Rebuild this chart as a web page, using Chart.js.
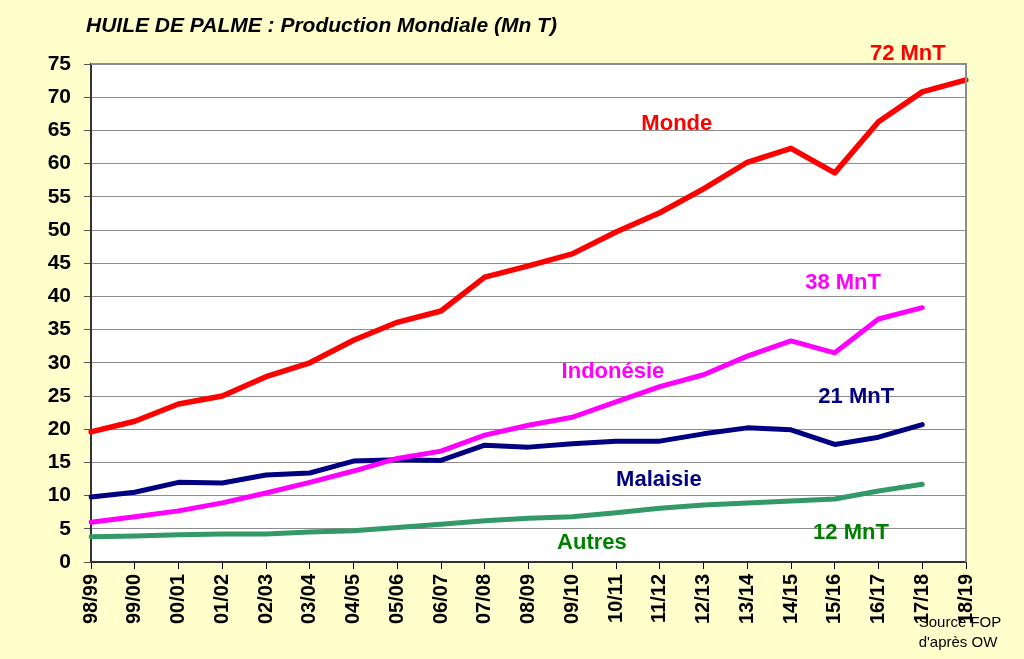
<!DOCTYPE html>
<html>
<head>
<meta charset="utf-8">
<title>Huile de palme</title>
<script src="https://cdn.jsdelivr.net/npm/chart.js@4.4.1/dist/chart.umd.min.js"></script>
<style>
  html, body { margin: 0; padding: 0; background: #FFFFCC; }
  #wrap { width: 1024px; height: 659px; position: relative; }
</style>
</head>
<body>
<div id="wrap"><canvas id="chart" width="1024" height="659"></canvas></div>
<script>
// campagnes
const seasons = ['98/99', '99/00', '00/01', '01/02', '02/03', '03/04', '04/05', '05/06', '06/07', '07/08',
  '08/09', '09/10', '10/11', '11/12', '12/13', '13/14', '14/15', '15/16', '16/17', '17/18', '18/19'];

// production, Mn T
const monde     = [19.6, 21.2, 23.8, 25.0, 27.9, 30.0, 33.4, 36.1, 37.8, 42.9, 44.6, 46.4, 49.7, 52.6, 56.2, 60.2, 62.3, 58.6, 66.3, 70.8, 72.6];
const indonesie = [6.0, 6.8, 7.7, 8.9, 10.4, 12.0, 13.7, 15.6, 16.7, 19.1, 20.6, 21.8, 24.1, 26.4, 28.2, 31.0, 33.3, 31.5, 36.6, 38.3, null];
const malaisie  = [9.8, 10.5, 12.0, 11.9, 13.1, 13.4, 15.2, 15.4, 15.3, 17.6, 17.3, 17.8, 18.2, 18.2, 19.3, 20.2, 19.9, 17.7, 18.8, 20.7, null];
const autres    = [3.8, 3.9, 4.1, 4.2, 4.2, 4.5, 4.7, 5.2, 5.7, 6.2, 6.6, 6.8, 7.4, 8.1, 8.6, 8.9, 9.2, 9.5, 10.7, 11.7, null];

const yTicks = [0, 5, 10, 15, 20, 25, 30, 35, 40, 45, 50, 55, 60, 65, 70, 75];

// text labels placed in data coordinates (category index, value)
const seriesLabels = [
  { text: 'Monde',     x: 13.39, y: 66.3, color: '#FF0000' },
  { text: '72 MnT',    x: 18.67, y: 76.8, color: '#FF0000' },
  { text: 'Indonésie', x: 11.93, y: 28.9, color: '#FF00FF' },
  { text: '38 MnT',    x: 17.19, y: 42.3, color: '#FF00FF' },
  { text: 'Malaisie',  x: 12.98, y: 12.7, color: '#000080' },
  { text: '21 MnT',    x: 17.49, y: 25.2, color: '#000080' },
  { text: 'Autres',    x: 11.45, y: 3.2,  color: '#008000' },
  { text: '12 MnT',    x: 17.37, y: 4.7,  color: '#008000' }
];

const FONT = "'Liberation Sans', Arial, sans-serif";

// background, plot frame, title, notes
const decorPlugin = {
  id: 'decor',
  beforeDraw(chart) {
    const { ctx, chartArea: a } = chart;
    ctx.save();
    ctx.fillStyle = '#FFFFCC';
    ctx.fillRect(0, 0, chart.width, chart.height);
    ctx.fillStyle = '#FFFFFF';
    ctx.fillRect(a.left, a.top, a.right - a.left, a.bottom - a.top);
    ctx.restore();
  },
  afterDatasetsDraw(chart) {
    const { ctx, chartArea: a, scales } = chart;
    ctx.save();
    // right and top frame
    ctx.strokeStyle = '#8C8C8C';
    ctx.lineWidth = 2;
    ctx.beginPath();
    ctx.moveTo(a.left, a.top);
    ctx.lineTo(a.right, a.top);
    ctx.lineTo(a.right, a.bottom);
    ctx.stroke();

    // series labels
    ctx.font = 'bold 22px ' + FONT;
    ctx.textAlign = 'center';
    ctx.textBaseline = 'middle';
    seriesLabels.forEach(l => {
      ctx.fillStyle = l.color;
      ctx.fillText(l.text, scales.x.getPixelForValue(l.x), scales.y.getPixelForValue(l.y) + 2);
    });

    // title
    ctx.fillStyle = '#000';
    ctx.textAlign = 'left';
    ctx.textBaseline = 'alphabetic';
    ctx.font = 'italic bold 21px ' + FONT;
    ctx.fillText('HUILE DE PALME : Production Mondiale (Mn T)', 86, 32);
    ctx.restore();
  },
  afterDraw(chart) {
    const { ctx } = chart;
    ctx.save();
    ctx.fillStyle = '#000';
    ctx.font = '15px ' + FONT;
    ctx.textAlign = 'center';
    ctx.textBaseline = 'alphabetic';
    ctx.fillText('Source FOP', 960, 627);
    ctx.fillText("d'après OW", 958, 647);
    ctx.restore();
  }
};

function line(label, data, color, width, order) {
  return {
    label: label,
    data: data,
    borderColor: color,
    backgroundColor: color,
    borderWidth: width,
    pointRadius: 0,
    tension: 0,
    fill: false,
    spanGaps: false,
    order: order,
    borderJoinStyle: 'round',
    borderCapStyle: 'round'
  };
}

new Chart(document.getElementById('chart'), {
  type: 'line',
  data: {
    labels: seasons,
    datasets: [
      line('Monde', monde, '#FF0000', 5.5, 1),
      line('Indonésie', indonesie, '#FF00FF', 5, 2),
      line('Malaisie', malaisie, '#000080', 5, 3),
      line('Autres', autres, '#339966', 5, 4)
    ]
  },
  options: {
    responsive: false,
    animation: false,
    layout: { padding: { top: 64, right: 58, left: 0, bottom: 0 } },
    plugins: {
      legend: { display: false },
      title: { display: false },
      tooltip: { enabled: false }
    },
    scales: {
      x: {
        type: 'category',
        offset: false,
        afterFit(scale) { scale.height = 97; },
        grid: {
          drawOnChartArea: false,
          drawTicks: true,
          tickLength: 7,
          tickColor: '#000'
        },
        border: { color: '#333', width: 2 },
        ticks: {
          autoSkip: false,
          minRotation: 90,
          maxRotation: 90,
          padding: 5,
          color: '#000',
          font: { family: FONT, size: 20, weight: 'bold' }
        }
      },
      y: {
        min: 0,
        max: 75,
        afterFit(scale) { scale.width = 91; },
        afterBuildTicks(scale) { scale.ticks = yTicks.map(v => ({ value: v })); },
        grid: {
          color: '#8C8C8C',
          lineWidth: 1,
          tickLength: 7,
          tickColor: '#555'
        },
        border: { color: '#333', width: 2 },
        ticks: {
          padding: 13,
          color: '#000',
          font: { family: FONT, size: 21, weight: 'bold' }
        }
      }
    }
  },
  plugins: [decorPlugin]
});
</script>
</body>
</html>
